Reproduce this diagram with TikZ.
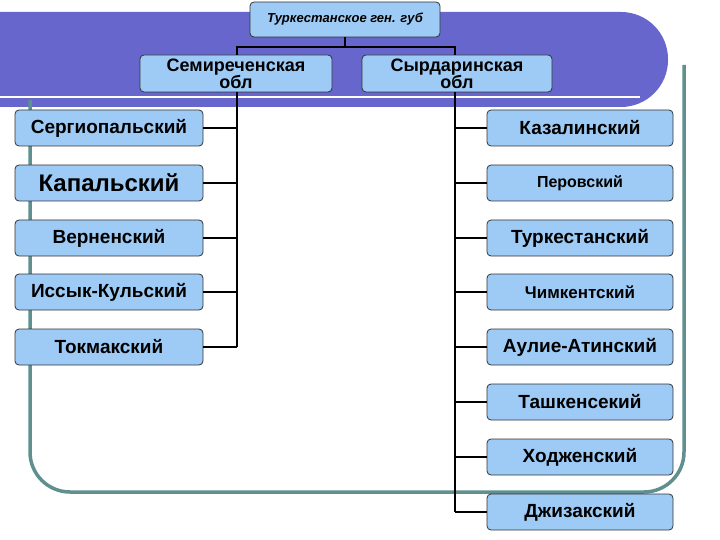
\documentclass[tikz,border=0pt]{standalone}
\usepackage{fontspec}
\setmainfont{Liberation Sans}
\begin{document}
\begin{tikzpicture}[x=1pt,y=-1pt,
 box/.style={draw=black!80,fill=boxc,rounded corners=4pt,line width=0.8pt,font=\bfseries\fontsize{19}{20}\selectfont,inner sep=0pt},
 ln/.style={line width=1.2pt}]
\definecolor{boxc}{HTML}{9DCBF5}
\definecolor{band}{HTML}{6666CC}
\definecolor{frame}{HTML}{5F8F8F}
\useasboundingbox (0,0) rectangle (720,540);
\fill[band,rounded corners=47pt] (-60,12) rectangle (668,107);
\draw[white,line width=1.5pt] (0,97) -- (640,97);
\draw[frame,line width=3.5pt,rounded corners=40pt] (30,100) -- (30,492) -- (684,492) -- (684,65);
\node[box,minimum width=190,minimum height=35,font=\bfseries\itshape\fontsize{13}{14}\selectfont] (top) at (345,19.5) {Туркестанское ген. губ};
\node[box,minimum width=192,minimum height=37,align=center,font=\bfseries\fontsize{18}{17}\selectfont] (s) at (236,73.5) {Семиреченская\\обл};
\node[box,minimum width=190,minimum height=37,align=center,font=\bfseries\fontsize{18}{17}\selectfont] (d) at (457,73.5) {Сырдаринская\\обл};
\foreach \n/\t/\y in {l1/Сергиопальский/128,l2/{\fontsize{24}{25}\selectfont Капальский}/183,l3/Верненский/238,l4/Иссык-Кульский/292,l5/Токмакский/347}
  \node[box,minimum width=188,minimum height=36] (\n) at (109,\y) {\t};
\foreach \n/\t/\y in {r1/Казалинский/128,r2/{\fontsize{16}{17}\selectfont Перовский}/183,r3/Туркестанский/238,r4/{\fontsize{17}{18}\selectfont Чимкентский}/292,r5/Аулие-Атинский/347,r6/Ташкенсекий/402,r7/Ходженский/457,r8/Джизакский/512}
  \node[box,minimum width=186,minimum height=36] (\n) at (580,\y) {\t};
\coordinate (j) at (345,47);
\draw[ln] (top.south) -- (j);
\draw[ln] (s.north -| 237,0) |- (455,47) -- (d.north -| 455,0);
\draw[ln] (237,92) -- (237,347);
\draw[ln] (455,92) -- (455,512);
\foreach \n/\y in {l1/128,l2/183,l3/238,l4/292,l5/347} \draw[ln] (\n.east) -- (237,\y);
\foreach \n/\y in {r1/128,r2/183,r3/238,r4/292,r5/347,r6/402,r7/457,r8/512} \draw[ln] (\n.west) -- (455,\y);
\end{tikzpicture}
\end{document}
